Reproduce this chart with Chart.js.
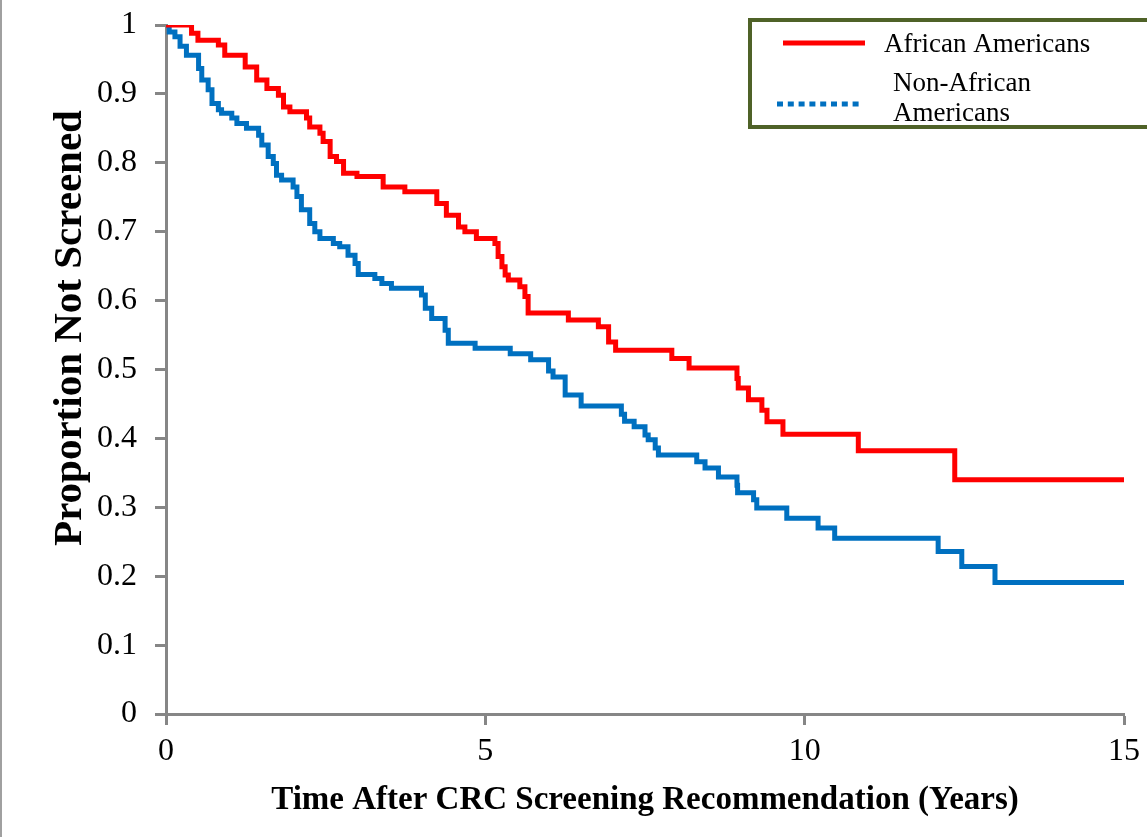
<!DOCTYPE html>
<html>
<head>
<meta charset="utf-8">
<script src="https://cdn.jsdelivr.net/npm/chart.js@4.4.1/dist/chart.umd.min.js"></script>
<style>
  body { margin: 0; background: #fff; }
  #wrap { width: 1147px; height: 837px; }
</style>
</head>
<body>
<div id="wrap"><canvas id="kmChart" width="1147" height="837"></canvas></div>
<script>
// Kaplan-Meier style curves
const aaTimes = [0, 0.40, 0.50, 0.82, 0.92, 1.24, 1.42, 1.58, 1.76, 1.84, 1.94, 2.20, 2.25, 2.41, 2.46, 2.57, 2.67, 2.78, 2.99, 3.40, 3.74, 4.24, 4.39, 4.58, 4.68, 4.86, 5.15, 5.20, 5.26, 5.31, 5.36, 5.54, 5.62, 5.67, 6.30, 6.77, 6.93, 7.04, 7.92, 8.19, 8.94, 8.96, 9.12, 9.33, 9.41, 9.66, 10.84, 12.35, 15];
const aaSurv = [1, 0.988, 0.978, 0.971, 0.956, 0.939, 0.920, 0.908, 0.898, 0.881, 0.874, 0.865, 0.852, 0.843, 0.831, 0.809, 0.802, 0.785, 0.780, 0.765, 0.758, 0.741, 0.724, 0.707, 0.700, 0.690, 0.683, 0.664, 0.649, 0.637, 0.630, 0.620, 0.606, 0.582, 0.572, 0.562, 0.540, 0.528, 0.516, 0.502, 0.487, 0.473, 0.456, 0.441, 0.424, 0.406, 0.382, 0.340, 0.340];

const naTimes = [0, 0.05, 0.14, 0.22, 0.32, 0.51, 0.56, 0.66, 0.72, 0.82, 0.87, 1.03, 1.11, 1.26, 1.45, 1.50, 1.60, 1.68, 1.73, 1.81, 1.99, 2.05, 2.12, 2.25, 2.33, 2.41, 2.62, 2.72, 2.85, 2.96, 3.01, 3.27, 3.38, 3.53, 4.00, 4.06, 4.16, 4.37, 4.42, 4.84, 5.39, 5.71, 5.99, 6.06, 6.25, 6.50, 7.13, 7.18, 7.33, 7.50, 7.55, 7.66, 7.71, 8.31, 8.44, 8.65, 8.94, 8.95, 9.20, 9.25, 9.72, 10.21, 10.47, 12.09, 12.46, 12.98, 15];
const naSurv = [1, 0.99, 0.983, 0.969, 0.956, 0.937, 0.920, 0.906, 0.886, 0.877, 0.872, 0.865, 0.857, 0.850, 0.840, 0.826, 0.809, 0.799, 0.782, 0.775, 0.765, 0.751, 0.732, 0.712, 0.700, 0.690, 0.683, 0.678, 0.666, 0.654, 0.638, 0.632, 0.625, 0.618, 0.608, 0.589, 0.574, 0.557, 0.538, 0.531, 0.523, 0.514, 0.498, 0.489, 0.463, 0.447, 0.435, 0.425, 0.417, 0.405, 0.398, 0.386, 0.376, 0.366, 0.357, 0.344, 0.332, 0.321, 0.311, 0.299, 0.284, 0.270, 0.255, 0.236, 0.214, 0.191, 0.191];

const seriesNames = ['African Americans', 'Non-African Americans'];
const xTickValues = [0, 5, 10, 15];
const yTickValues = [0, 0.1, 0.2, 0.3, 0.4, 0.5, 0.6, 0.7, 0.8, 0.9, 1];
const yTickLabels = ['0', '0.1', '0.2', '0.3', '0.4', '0.5', '0.6', '0.7', '0.8', '0.9', '1'];
const yTitle = 'Proportion Not Screened';
const xTitle = 'Time After CRC Screening Recommendation (Years)';

const RED = '#FF0000';
const BLUE = '#0070C0';
const AXIS_GREY = '#868686';
const SERIF = '"Liberation Serif", "Times New Roman", serif';

const toPoints = (xs, ys) => xs.map((x, i) => ({ x: x, y: ys[i] }));

// white background, left frame line, y title (sits above centre) and the boxed legend
const decorPlugin = {
  id: 'decor',
  beforeDraw(chart) {
    const ctx = chart.ctx;
    ctx.save();
    ctx.fillStyle = '#fff';
    ctx.fillRect(0, 0, chart.width, chart.height);
    ctx.strokeStyle = '#A0A0A0';
    ctx.lineWidth = 2;
    ctx.beginPath();
    ctx.moveTo(1, 0);
    ctx.lineTo(1, chart.height);
    ctx.stroke();
    ctx.restore();
  },
  afterDraw(chart) {
    const ctx = chart.ctx;
    ctx.save();
    ctx.translate(70, 328);
    ctx.rotate(-Math.PI / 2);
    ctx.fillStyle = '#000';
    ctx.font = 'bold 41px ' + SERIF;
    ctx.textAlign = 'center';
    ctx.textBaseline = 'middle';
    ctx.fillText(yTitle, 0, 0);
    ctx.restore();

    ctx.save();
    ctx.strokeStyle = '#4F6228';
    ctx.lineWidth = 4;
    ctx.strokeRect(750, 20, 420, 107);

    ctx.strokeStyle = RED;
    ctx.lineWidth = 5;
    ctx.beginPath();
    ctx.moveTo(783, 43);
    ctx.lineTo(865, 43);
    ctx.stroke();

    ctx.strokeStyle = BLUE;
    ctx.setLineDash([6, 4.8]);
    ctx.beginPath();
    ctx.moveTo(777, 104);
    ctx.lineTo(859, 104);
    ctx.stroke();
    ctx.setLineDash([]);

    ctx.fillStyle = '#000';
    ctx.font = '27px ' + SERIF;
    ctx.textBaseline = 'alphabetic';
    ctx.fillText(seriesNames[0], 884, 52);
    ctx.fillText('Non-African', 893, 91);
    ctx.fillText('Americans', 893, 121);
    ctx.restore();
  }
};

const ctx = document.getElementById('kmChart').getContext('2d');
new Chart(ctx, {
  type: 'line',
  data: {
    datasets: [
      {
        label: seriesNames[0],
        data: toPoints(aaTimes, aaSurv),
        borderColor: RED,
        borderWidth: 5,
        stepped: true,
        pointRadius: 0,
        fill: false
      },
      {
        label: seriesNames[1],
        data: toPoints(naTimes, naSurv),
        borderColor: BLUE,
        borderWidth: 5,
        stepped: true,
        pointRadius: 0,
        fill: false
      }
    ]
  },
  options: {
    responsive: false,
    animation: false,
    layout: { padding: { top: 25, right: 23, left: 0, bottom: 0 } },
    plugins: {
      legend: { display: false },
      tooltip: { enabled: false }
    },
    scales: {
      x: {
        type: 'linear',
        min: 0,
        max: 15,
        afterBuildTicks: (scale) => { scale.ticks = xTickValues.map(v => ({ value: v })); },
        afterFit: (scale) => { scale.height = 123; },
        border: { color: AXIS_GREY, width: 3 },
        grid: { drawOnChartArea: false, tickLength: 11, tickColor: AXIS_GREY, tickWidth: 3 },
        ticks: { color: '#000', padding: 7, font: { family: SERIF, size: 32 } },
        title: {
          display: true,
          text: xTitle,
          color: '#000',
          font: { family: SERIF, size: 33, weight: 'bold' },
          padding: { top: 0, bottom: 17 }
        }
      },
      y: {
        type: 'linear',
        min: 0,
        max: 1,
        afterBuildTicks: (scale) => { scale.ticks = yTickValues.map(v => ({ value: v })); },
        afterFit: (scale) => {
          scale.width = 166;
          scale.paddingTop = 20;
          scale.paddingBottom = 20;
        },
        border: { color: AXIS_GREY, width: 3 },
        grid: { drawOnChartArea: false, tickLength: 11, tickColor: AXIS_GREY, tickWidth: 3 },
        ticks: {
          color: '#000',
          padding: 18,
          font: { family: SERIF, size: 32 },
          callback: (value) => yTickLabels[yTickValues.indexOf(value)]
        }
      }
    }
  },
  plugins: [decorPlugin]
});
</script>
</body>
</html>
